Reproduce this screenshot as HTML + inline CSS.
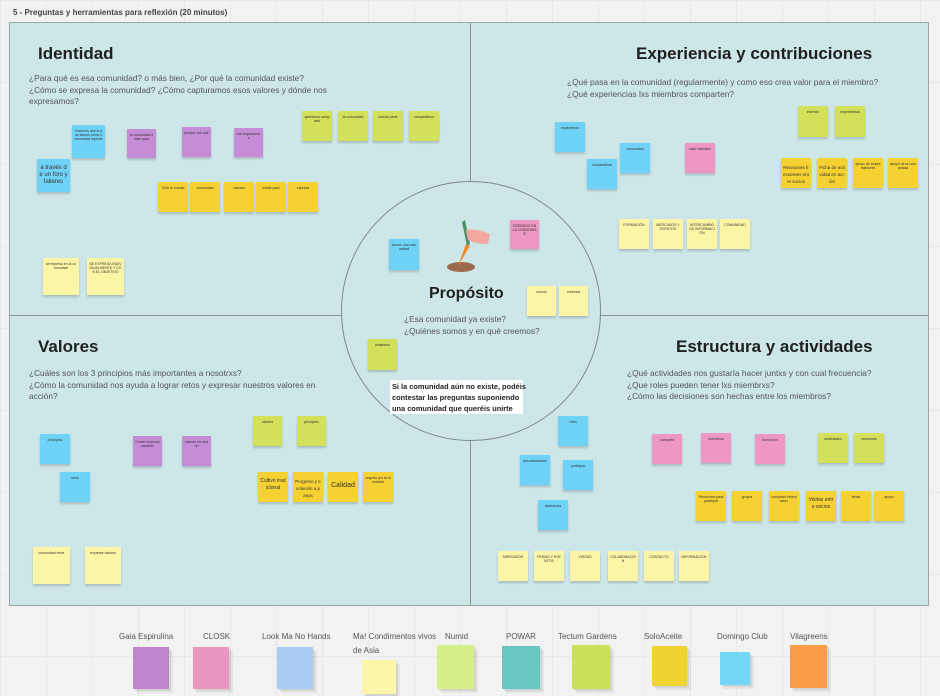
<!DOCTYPE html>
<html><head><meta charset="utf-8">
<style>
body{margin:0;width:940px;height:696px;overflow:hidden;background:#f2f2f2;font-family:"Liberation Sans",sans-serif;position:relative}
.grid{position:absolute;inset:0;background-image:linear-gradient(#e8e8e8 1px,transparent 1px),linear-gradient(90deg,#e8e8e8 1px,transparent 1px);background-size:46px 82px}
.board{position:absolute;left:9px;top:22px;width:920px;height:584px;background:#cde6e8;border:1px solid #9aa3a6;box-sizing:border-box;overflow:hidden}
.vl{position:absolute;left:460px;top:0;width:1px;height:584px;background:#8a9396}
.hl{position:absolute;left:0;top:292px;width:920px;height:1px;background:#8a9396}
.circle{position:absolute;left:331px;top:158px;width:260px;height:260px;border-radius:50%;border:1px solid #7f8a8d;background:#cde6e8;box-sizing:border-box}
.n{position:absolute;width:30px;height:30px;box-shadow:0 2px 2px rgba(0,0,0,.18);font-size:3.5px;line-height:4.2px;color:#333;text-align:center;overflow:hidden;padding:4px 2px;box-sizing:border-box;word-break:break-all}
.b{background:#6fd3f7}.p{background:#c78cd6}.l{background:#d3e05a}.y{background:#f5d232}.w{background:#fdf5a6}.k{background:#ee97c2}
.big{font-size:6px;line-height:7px;padding-top:6px}
h1{position:absolute;margin:0;font-size:17px;font-weight:bold;color:#1f1f1f}
.q{position:absolute;font-size:8.3px;line-height:11.5px;color:#555}
.lab{position:absolute;top:630px;font-size:8px;color:#555;line-height:14px}
.st{position:absolute;box-shadow:2px 2px 0 rgba(0,0,0,.08),4px 4px 0 rgba(0,0,0,.05)}
</style></head><body>
<div class="grid"></div>
<div style="position:absolute;left:13px;top:8px;font-size:8px;font-weight:bold;color:#444">5 - Preguntas y herramientas para reflexión (20 minutos)</div>
<div class="board">
<div class="vl"></div><div class="hl"></div>
<div class="circle"></div>
</div>
<h1 style="left:38px;top:44px">Identidad</h1>
<div class="q" style="left:29px;top:73px;width:300px">¿Para qué es esa comunidad? o más bien, ¿Por qué la comunidad existe?<br>¿Cómo se expresa la comunidad? ¿Cómo capturamos esos valores y dónde nos expresamos?</div>
<h1 style="left:636px;top:44px">Experiencia y contribuciones</h1>
<div class="q" style="left:567px;top:77px">¿Qué pasa en la comunidad (regularmente) y como eso crea valor para el miembro?<br>¿Qué experiencias lxs miembros comparten?</div>
<h1 style="left:38px;top:337px">Valores</h1>
<div class="q" style="left:29px;top:368px;width:300px">¿Cuáles son los 3 principios más importantes a nosotrxs?<br>¿Cómo la comunidad nos ayuda a lograr retos y expresar nuestros valores en acción?</div>
<h1 style="left:676px;top:337px">Estructura y actividades</h1>
<div class="q" style="left:627px;top:368px">¿Qué actividades nos gustaría hacer juntxs y con cual frecuencia?<br>¿Que roles pueden tener lxs miembrxs?<br>¿Cómo las decisiones son hechas entre los miembros?</div>
<h1 style="left:429px;top:285px;font-size:16px">Propósito</h1>
<div class="q" style="left:404px;top:314px">¿Esa comunidad ya existe?<br>¿Quiénes somos y en qué creemos?</div>
<div style="position:absolute;left:390px;top:380px;width:133px;height:34px;background:#fff;font-size:7.4px;font-weight:bold;line-height:11px;color:#222;padding:1px 2px;box-sizing:border-box;white-space:nowrap">Si la comunidad aún no existe, podéis<br>contestar las preguntas suponiendo<br>una comunidad que queréis unirte</div>
<svg style="position:absolute;left:445px;top:216px" width="48" height="58"><ellipse cx="16" cy="51" rx="14" ry="5" fill="#9b6a4f"/><path d="M13 50 L21 28 L25 30 Z" fill="#f28a2e"/><path d="M22 30 L17 6 L20 4 L25 28Z" fill="#4f8f6a"/><path d="M21 14 q10 -2 24 4 l-2 10 q-12 0 -20 -4z" fill="#f3a9a0"/></svg>
<!-- Identidad notes -->
<div class="n b" style="left:72px;top:125px;width:33px;height:33px">Creemos que lo que somos como comunidad importa</div>
<div class="n b big" style="left:37px;top:159px;width:33px;height:33px">a través de un foro y talleres</div>
<div class="n p" style="left:127px;top:129px;width:29px;height:29px">la comunidad existe para</div>
<div class="n p" style="left:182px;top:127px;width:29px">porque nos une</div>
<div class="n p" style="left:234px;top:128px;width:29px;height:29px">nos expresamos</div>
<div class="n l" style="left:302px;top:111px">queremos compartir</div>
<div class="n l" style="left:338px;top:111px">la comunidad</div>
<div class="n l" style="left:373px;top:111px">somos parte</div>
<div class="n l" style="left:409px;top:111px">compartimos</div>
<div class="n y" style="left:158px;top:182px">Todo el mundo</div>
<div class="n y" style="left:190px;top:182px">comunidad</div>
<div class="n y" style="left:224px;top:182px">valores</div>
<div class="n y" style="left:256px;top:182px">existe para</div>
<div class="n y" style="left:288px;top:182px">expresa</div>
<div class="n w" style="left:43px;top:258px;width:36px;height:37px">se expresa en la comunidad</div>
<div class="n w" style="left:87px;top:258px;width:37px;height:37px">SE EXPRESA INDIVIDUALMENTE Y CON EL OBJETIVO</div>
<!-- Experiencia -->
<div class="n b" style="left:555px;top:122px">experiencia</div>
<div class="n b" style="left:587px;top:159px">compartimos</div>
<div class="n b" style="left:620px;top:143px">comunidad</div>
<div class="n k" style="left:685px;top:143px">valor miembro</div>
<div class="n l" style="left:798px;top:106px;height:31px">eventos</div>
<div class="n l" style="left:835px;top:106px;height:31px">experiencias</div>
<div class="n y big" style="left:781px;top:158px;font-size:4.5px">Reuniones frecuentes entre socios</div>
<div class="n y big" style="left:817px;top:158px;font-size:4.5px">Ficha de actividad en acción</div>
<div class="n y" style="left:853px;top:158px">apoyo de emprendedores</div>
<div class="n y" style="left:888px;top:158px">apoyo de la comunidad</div>
<div class="n w" style="left:619px;top:219px">FORMACIÓN</div>
<div class="n w" style="left:653px;top:219px">MERCADOS Y EVENTOS</div>
<div class="n w" style="left:687px;top:219px">INTERCAMBIO DE INFORMACIÓN</div>
<div class="n w" style="left:720px;top:219px">COMUNIDAD</div>
<div class="n k" style="left:510px;top:220px;width:29px;height:29px">CREEMOS EN LA COMUNIDAD</div>
<div class="n w" style="left:527px;top:286px;width:29px">somos</div>
<div class="n w" style="left:559px;top:286px;width:29px">creemos</div>
<div class="n b" style="left:389px;top:239px;height:31px">somos una comunidad</div>
<div class="n l" style="left:368px;top:339px;width:29px;height:31px">existimos</div>
<!-- Valores -->
<div class="n b" style="left:40px;top:434px">principios</div>
<div class="n b" style="left:60px;top:472px">retos</div>
<div class="n p" style="left:133px;top:436px;width:29px">Crecer económicamente</div>
<div class="n p" style="left:182px;top:436px;width:29px">valores en acción</div>
<div class="n l" style="left:253px;top:416px;width:29px">valores</div>
<div class="n l" style="left:297px;top:416px;width:29px">principios</div>
<div class="n y big" style="left:258px;top:472px;font-size:5px">Cultivo tradicional</div>
<div class="n y big" style="left:293px;top:472px;font-size:4.5px">Progreso y evolución a pasos</div>
<div class="n y" style="left:328px;top:472px;font-size:7px;line-height:8px;padding-top:10px">Calidad</div>
<div class="n y" style="left:363px;top:472px">respeto por la identidad</div>
<div class="n w" style="left:33px;top:547px;width:37px;height:37px">comunidad retos</div>
<div class="n w" style="left:85px;top:547px;width:36px;height:37px">expresar valores</div>
<!-- Estructura -->
<div class="n b" style="left:558px;top:416px">roles</div>
<div class="n b" style="left:520px;top:455px">documentación</div>
<div class="n b" style="left:563px;top:460px">participar</div>
<div class="n b" style="left:538px;top:500px">decisiones</div>
<div class="n k" style="left:652px;top:434px">compartir</div>
<div class="n k" style="left:701px;top:433px">miembros</div>
<div class="n k" style="left:755px;top:434px">formación</div>
<div class="n l" style="left:818px;top:433px">actividades</div>
<div class="n l" style="left:854px;top:433px">reuniones</div>
<div class="n y" style="left:696px;top:491px">Reuniones para participar</div>
<div class="n y" style="left:732px;top:491px">grupos</div>
<div class="n y" style="left:769px;top:491px">compartir información</div>
<div class="n y big" style="left:806px;top:491px;font-size:5px">Visitas entre socios</div>
<div class="n y" style="left:841px;top:491px">ferias</div>
<div class="n y" style="left:874px;top:491px">apoyo</div>
<div class="n w" style="left:498px;top:551px">MERCADOS</div>
<div class="n w" style="left:534px;top:551px">FERIAS Y EVENTOS</div>
<div class="n w" style="left:570px;top:551px">VISITAS</div>
<div class="n w" style="left:608px;top:551px">COLABORACIÓN</div>
<div class="n w" style="left:644px;top:551px">CONTACTO</div>
<div class="n w" style="left:679px;top:551px">INFORMACIÓN</div>
<!-- legend -->
<div class="lab" style="left:119px">Gaia Espirulina</div>
<div class="lab" style="left:203px">CLOSK</div>
<div class="lab" style="left:262px">Look Ma No Hands</div>
<div class="lab" style="left:353px">Ma! Condimentos vivos<br>de Asia</div>
<div class="lab" style="left:445px">Numid</div>
<div class="lab" style="left:506px">POWAR</div>
<div class="lab" style="left:558px">Tectum Gardens</div>
<div class="lab" style="left:644px">SoloAceite</div>
<div class="lab" style="left:717px">Domingo Club</div>
<div class="lab" style="left:790px">Vilagreens</div>
<div class="st" style="left:133px;top:647px;width:36px;height:42px;background:#be86cc"></div>
<div class="st" style="left:193px;top:647px;width:36px;height:42px;background:#ea97c0"></div>
<div class="st" style="left:277px;top:647px;width:36px;height:42px;background:#a9cdf2"></div>
<div class="st" style="left:362px;top:660px;width:34px;height:34px;background:#fdf5a8"></div>
<div class="st" style="left:437px;top:645px;width:37px;height:44px;background:#d6ef86"></div>
<div class="st" style="left:502px;top:646px;width:38px;height:43px;background:#66c8c0"></div>
<div class="st" style="left:572px;top:645px;width:38px;height:44px;background:#cde05a"></div>
<div class="st" style="left:652px;top:646px;width:35px;height:40px;background:#f0d230"></div>
<div class="st" style="left:720px;top:652px;width:30px;height:33px;background:#74d6f5"></div>
<div class="st" style="left:790px;top:645px;width:37px;height:43px;background:#fb9c48"></div>
</body></html>
